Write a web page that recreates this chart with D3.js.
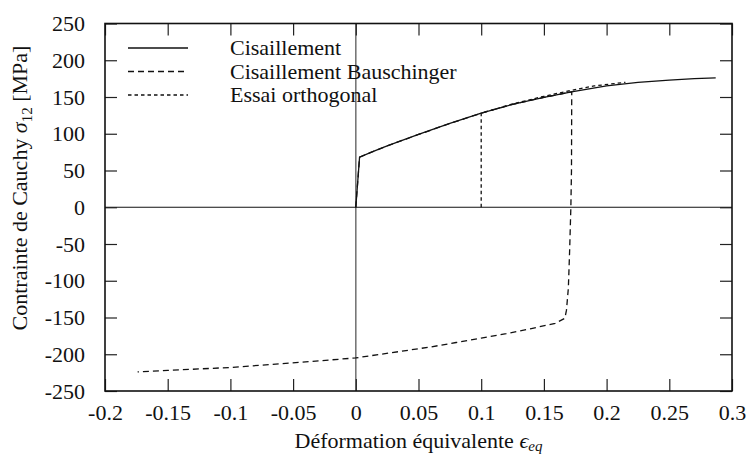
<!DOCTYPE html>
<html>
<head>
<meta charset="utf-8">
<script src="https://cdn.jsdelivr.net/npm/d3@7"></script>
<style>
    body { margin: 0; background: #fff; }
    svg text { font-family: "Liberation Serif", "DejaVu Serif", serif; }
</style>
</head>
<body>
<svg id="chart" width="750" height="457"></svg>
<script>
// Cisaillement (monotone shear)
const shearX = [0, 0.003, 0.0125, 0.025, 0.05, 0.075, 0.1, 0.125, 0.15, 0.172, 0.2, 0.225, 0.25, 0.27, 0.287];
const shearY = [0, 68, 75, 83.5, 99, 114, 128, 140, 149.5, 157, 165, 170, 173, 175, 176];

// Cisaillement Bauschinger (load, then reverse)
const bauschX = [0, 0.003, 0.0125, 0.025, 0.05, 0.075, 0.1, 0.125, 0.15, 0.1722, 0.172, 0.1715, 0.1705, 0.1695, 0.168, 0.1667,
    0.159, 0.14, 0.12, 0.1, 0.08, 0.06, 0.04, 0.02, 0, -0.045, -0.1, -0.15, -0.174];
const bauschY = [0, 68, 75, 83.5, 99, 114, 128, 140, 149.5, 157, 50, 0, -60, -110, -140, -151,
    -158, -165, -172, -178, -184, -190, -195, -200, -205, -211, -218, -222, -224];

// Essai orthogonal
const orthoX = [0.1, 0.1, 0.125, 0.15, 0.172, 0.19, 0.215];
const orthoY = [0, 128, 140.5, 151, 159, 165, 170];

const xTicks = [-0.2, -0.15, -0.1, -0.05, 0, 0.05, 0.1, 0.15, 0.2, 0.25, 0.3];
const yTicks = [-250, -200, -150, -100, -50, 0, 50, 100, 150, 200, 250];

const seriesNames = ["Cisaillement", "Cisaillement Bauschinger", "Essai orthogonal"];
const dashes = [null, "6,4", "3.5,3"];

const FONT = "'Liberation Serif', 'DejaVu Serif', serif";

const svg = d3.select("#chart");
const margin = { top: 23.5, right: 18, bottom: 66, left: 105 };
const width = +svg.attr("width") - margin.left - margin.right,
    height = +svg.attr("height") - margin.top - margin.bottom;

const x = d3.scaleLinear().domain([-0.2, 0.3]).range([0, width]);
const y = d3.scaleLinear().domain([-250, 250]).range([height, 0]);

const g = svg.append("g").attr("transform", `translate(${margin.left},${margin.top})`);

const fmt = d => (d === 0 ? "0" : String(d));

// zero axes
g.append("line")
    .attr("x1", x(0)).attr("x2", x(0))
    .attr("y1", 0).attr("y2", height)
    .attr("stroke", "#777").attr("stroke-width", 1.6);
g.append("line")
    .attr("x1", 0).attr("x2", width)
    .attr("y1", y(0)).attr("y2", y(0))
    .attr("stroke", "#111").attr("stroke-width", 1.2);

// axes with inward ticks, mirrored
const tickLen = 12;
const axes = [
    g.append("g")
        .attr("transform", `translate(0,${height})`)
        .call(d3.axisBottom(x).tickValues(xTicks).tickFormat(fmt).tickSizeInner(-tickLen).tickSizeOuter(0).tickPadding(13)),
    g.append("g")
        .call(d3.axisTop(x).tickValues(xTicks).tickFormat("").tickSizeInner(-tickLen).tickSizeOuter(0)),
    g.append("g")
        .call(d3.axisLeft(y).tickValues(yTicks).tickFormat(fmt).tickSizeInner(-tickLen).tickSizeOuter(0).tickPadding(20)),
    g.append("g")
        .attr("transform", `translate(${width},0)`)
        .call(d3.axisRight(y).tickValues(yTicks).tickFormat("").tickSizeInner(-tickLen).tickSizeOuter(0))
];
axes.forEach(a => {
    a.attr("font-family", FONT).attr("font-size", 22);
    a.select(".domain").remove();
    a.selectAll(".tick line").attr("stroke", "#222").attr("stroke-width", 1.2);
    a.selectAll(".tick text").attr("fill", "#111");
});

// frame
g.append("rect")
    .attr("width", width).attr("height", height)
    .attr("fill", "none").attr("stroke", "#111").attr("stroke-width", 1.6);

// curves
const line = d3.line().x(d => x(d[0])).y(d => y(d[1]));
const series = [
    d3.zip(shearX, shearY),
    d3.zip(bauschX, bauschY),
    d3.zip(orthoX, orthoY)
];

g.selectAll(".curve")
    .data(series)
    .enter()
    .append("path")
    .attr("class", "curve")
    .attr("d", d => line(d))
    .attr("fill", "none")
    .attr("stroke", "#111")
    .attr("stroke-width", 1.3)
    .attr("stroke-dasharray", (d, i) => dashes[i]);

// legend
const legend = g.append("g").attr("transform", "translate(23,24.5)");
seriesNames.forEach((name, i) => {
    legend.append("line")
        .attr("x1", 0).attr("x2", 60)
        .attr("y1", i * 23.5).attr("y2", i * 23.5)
        .attr("stroke", "#111").attr("stroke-width", 1.3)
        .attr("stroke-dasharray", dashes[i]);
    legend.append("text")
        .attr("x", 102).attr("y", i * 23.5 + 7)
        .attr("font-family", FONT)
        .attr("font-size", 22)
        .attr("fill", "#111")
        .text(name);
});

// axis labels
const yl = svg.append("text")
    .attr("transform", "translate(27,188) rotate(-90)")
    .attr("text-anchor", "middle")
    .attr("font-family", FONT)
    .attr("font-size", 22)
    .attr("fill", "#111");
yl.append("tspan").text("Contrainte de Cauchy ");
yl.append("tspan").attr("font-style", "italic").text("σ");
yl.append("tspan").attr("dy", 5).attr("font-size", 15).text("12");
yl.append("tspan").attr("dy", -5).text(" [MPa]");

const xl = svg.append("text")
    .attr("x", margin.left + width / 2)
    .attr("y", 448)
    .attr("text-anchor", "middle")
    .attr("font-family", FONT)
    .attr("font-size", 22)
    .attr("fill", "#111");
xl.append("tspan").text("Déformation équivalente ");
xl.append("tspan").attr("font-style", "italic").text("ϵ");
xl.append("tspan").attr("dy", 3).attr("font-size", 15).attr("font-style", "italic").text("eq");
</script>
</body>
</html>
